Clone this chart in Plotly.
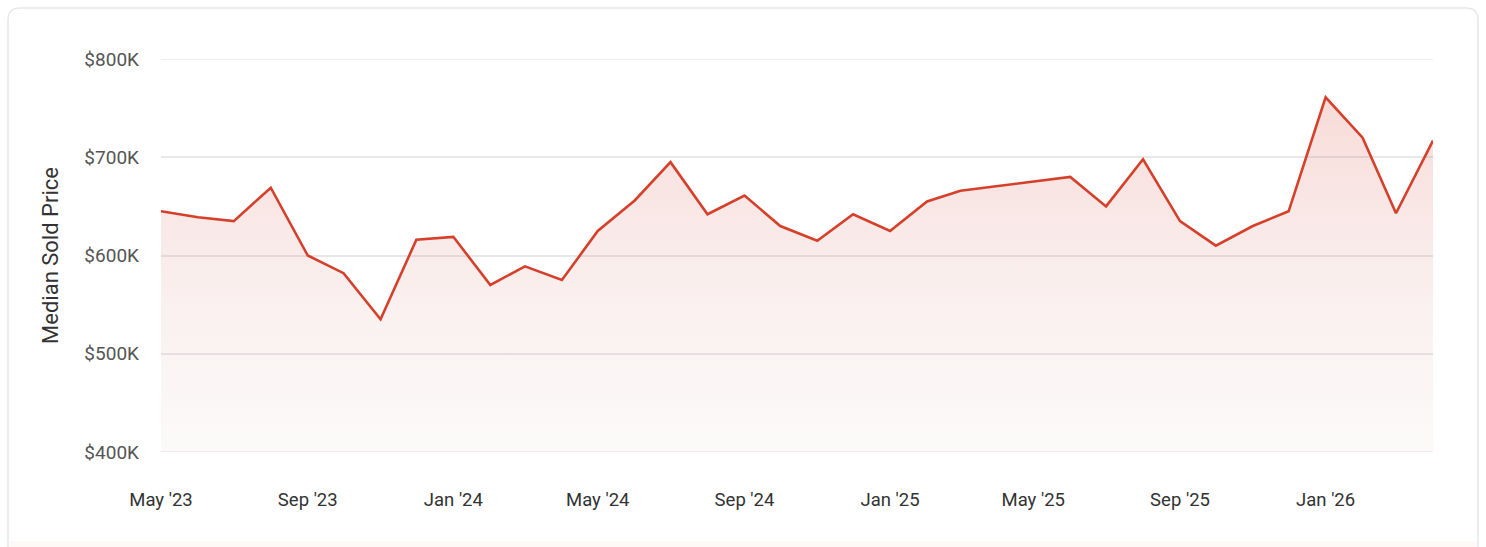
import plotly.graph_objects as go

# ---- data ----
months = [
    "2023-05-01", "2023-06-01", "2023-07-01", "2023-08-01", "2023-09-01", "2023-10-01",
    "2023-11-01", "2023-12-01", "2024-01-01", "2024-02-01", "2024-03-01", "2024-04-01",
    "2024-05-01", "2024-06-01", "2024-07-01", "2024-08-01", "2024-09-01", "2024-10-01",
    "2024-11-01", "2024-12-01", "2025-01-01", "2025-02-01", "2025-03-01",
    "2025-06-01", "2025-07-01", "2025-08-01", "2025-09-01", "2025-10-01", "2025-11-01",
    "2025-12-01", "2026-01-01", "2026-02-01", "2026-03-01", "2026-04-01",
]
median_price = [
    645000, 639000, 635000, 669000, 600000, 582000,
    535000, 616000, 619000, 570000, 589000, 575000,
    625000, 656000, 695000, 642000, 661000, 630000,
    615000, 642000, 625000, 655000, 666000,
    680000, 650000, 698000, 635000, 610000, 630000,
    645000, 761000, 720000, 643000, 717000,
]
y_tick_vals = [400000, 500000, 600000, 700000, 800000]
y_tick_text = ["$400K", "$500K", "$600K", "$700K", "$800K"]
y_title = "Median Sold Price"

# ---- layout geometry (pixels) ----
W, H = 1486, 547
L, R, T, B = 161, 1433, 59, 452


def px_x(p):
    return (p - L) / (R - L)


def px_y(p):
    return (B - p) / (B - T)


line_color = "#d6402b"
grid_color = "#e8e8ea"

fig = go.Figure()
fig.add_trace(go.Scatter(
    x=months, y=median_price, mode="lines",
    line=dict(color=line_color, width=2.6),
    fill="tozeroy",
    fillgradient=dict(
        type="vertical", start=y_tick_vals[0], stop=760000,
        colorscale=[[0, "rgba(200,150,150,0.05)"], [1, "rgba(217,67,47,0.19)"]],
    ),
    hoverinfo="x+y",
    showlegend=False,
))

# card with rounded corners
cl, cr, ct, cb, rad = 8, 1478, 8, 600, 12
rx, ry = rad / (R - L), rad / (B - T)
x0, x1, y0, y1 = px_x(cl), px_x(cr), px_y(cb), px_y(ct)
card_path = (
    f"M {x0+rx},{y1} L {x1-rx},{y1} Q {x1},{y1} {x1},{y1-ry} "
    f"L {x1},{y0+ry} Q {x1},{y0} {x1-rx},{y0} L {x0+rx},{y0} "
    f"Q {x0},{y0} {x0},{y0+ry} L {x0},{y1-ry} Q {x0},{y1} {x0+rx},{y1} Z"
)
shapes = [
    dict(type="path", xref="paper", yref="paper", path=card_path,
         line=dict(color="#e6e8eb", width=1.5), fillcolor="white", layer="below"),
    dict(type="rect", xref="paper", yref="paper",
         x0=px_x(cl + 1.5), x1=px_x(cr - 1.5), y0=px_y(548), y1=px_y(541),
         line=dict(width=0), fillcolor="#fef8f7", layer="below"),
]
# gridlines at the range ends (plotly drops them at the edges)
for v in (y_tick_vals[0], y_tick_vals[-1]):
    shapes.append(dict(type="line", xref="paper", yref="y", x0=0, x1=1, y0=v, y1=v,
                       line=dict(color=grid_color, width=1.5), layer="below"))

fig.update_layout(
    width=W, height=H,
    margin=dict(l=L, r=W - R, t=T, b=H - B, autoexpand=False),
    paper_bgcolor="white", plot_bgcolor="rgba(0,0,0,0)",
    font=dict(family="Roboto, Arial, sans-serif", color="#333333"),
    shapes=shapes,
    xaxis=dict(
        type="date",
        range=["2023-05-01", "2026-04-01"],
        tick0="2023-05-01", dtick="M4", tickformat="%b '%y",
        showgrid=False, zeroline=False, showline=False,
        ticks="", ticklabelstandoff=34,
        tickfont=dict(size=18.5, color="#333333"),
        automargin=False,
    ),
    yaxis=dict(
        range=[y_tick_vals[0], y_tick_vals[-1]],
        tickvals=y_tick_vals, ticktext=y_tick_text,
        showgrid=True, gridcolor=grid_color, gridwidth=1.5,
        zeroline=False, showline=False, ticks="",
        ticklabelstandoff=21,
        tickfont=dict(size=19, color="#555555"),
        title=dict(text=y_title, font=dict(size=22, color="#333333"), standoff=19),
        automargin=False,
    ),
)

fig.write_html("out.html")
